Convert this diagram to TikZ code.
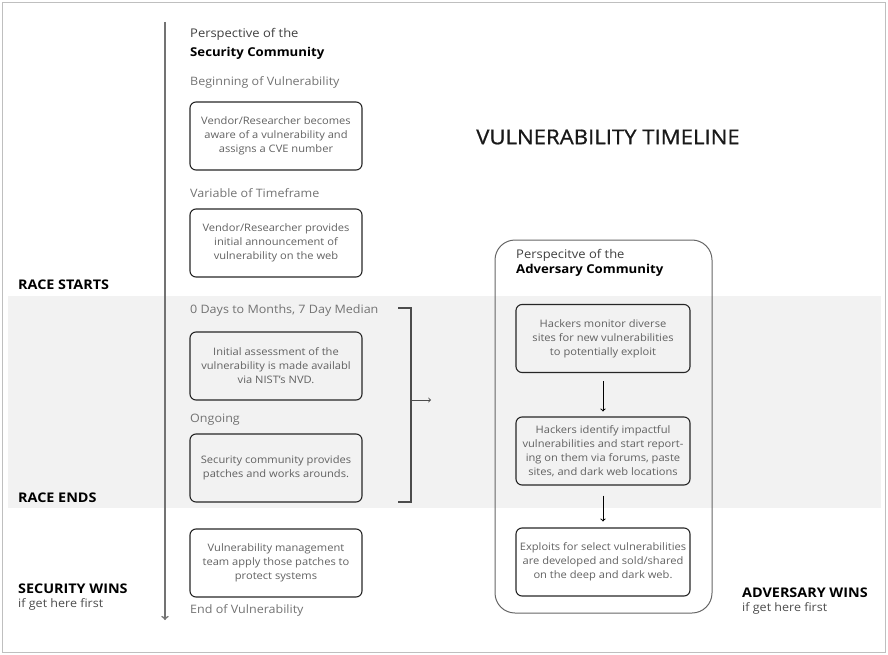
\documentclass[tikz,border=0pt]{standalone}
\usepackage{fontspec}
\setmainfont{Open Sans}[FakeStretch=1.08]
\newfontfamily\titlefont{Open Sans}[FakeStretch=1.08, FakeBold=0.8]
\usetikzlibrary{positioning}
\tikzset{
  stepbox/.style={draw=black!85, line width=1.1pt, rounded corners=6pt,
    minimum width=172pt, minimum height=68pt, align=center,
    font=\fontsize{10.3}{14}\selectfont, text=black!62, inner sep=1pt},
  label/.style={anchor=base west, inner sep=0pt},
  phase/.style={label, font=\fontsize{11.6}{13}\selectfont, text=black!55},
  persp/.style={label, font=\fontsize{12}{14}\selectfont, text=black!75},
  community/.style={label, font=\fontsize{12.2}{14}\selectfont\bfseries, text=black},
  race/.style={label, font=\fontsize{13.3}{15}\selectfont\bfseries, text=black},
  note/.style={label, font=\fontsize{11.6}{13}\selectfont, text=black!70},
}
\begin{document}
\begin{tikzpicture}[>=to, x=1pt, y=-1pt]
    \useasboundingbox (0,0) rectangle (888,655);
    % frame and the grey race band
    \draw[black!25, line width=1pt] (2,3) rectangle (885,652);
    \fill[black!5] (8,296) rectangle (881,508);

    % time axis
    \coordinate (axtop) at (165,22);
    \coordinate (axend) at (165,620);
    \draw[->, black!55, line width=1.6pt] (axtop) -- (axend);

    % left margin labels
    \node[race] (start) at (18,289) {RACE STARTS};
    \node[race] (ends) at (18,502) {RACE ENDS};
    \node[race] (secwins) at (18,593) {SECURITY WINS};
    \node[note] (secfirst) at (18,607) {if get here first};

    % security community column
    \node[persp] (sp) at (190,38) {Perspective of the};
    \node[community] (sc) at (190,57) {Security Community};
    \node[phase] (begin) at (190,86) {Beginning of Vulnerability};
    \node[stepbox] (aware) at (276,136) {Vendor/Researcher becomes\\aware of a vulnerability and\\assigns a CVE number};
    \node[phase] (variable) at (190,197) {Variable of Timeframe};
    \node[stepbox] (announce) at (276,243) {Vendor/Researcher provides\\initial announcement of\\vulnerability on the web};
    \node[phase] (median) at (190,313) {0 Days to Months, 7 Day Median};
    \node[stepbox] (assess) at (276,366) {Initial assessment of the\\vulnerability is made availabl\\via NIST's NVD.};
    \node[phase] (ongoing) at (190,422) {Ongoing};
    \node[stepbox] (patches) at (276,468) {Security community provides\\patches and works arounds.};
    \node[stepbox] (apply) at (276,563) {Vulnerability management\\team apply those patches to\\protect systems};
    \node[phase] (endvul) at (190,613) {End of Vulnerability};

    % bracket over the race and its arrow
    \coordinate (brtop) at (398,308);
    \coordinate (brbot) at (398,502);
    \coordinate (brmid) at (411,400);
    \coordinate (brtip) at (431,400);
    \draw[black!70, line width=1.1pt] (brtop) -| (brmid) |- (brbot);
    \draw[->, black!70, line width=0.9pt] (brmid) -- (brtip);

    % title
    \node[font=\titlefont\fontsize{20.5}{24}\selectfont, text=black!90] (title) at (608,137) {VULNERABILITY TIMELINE};

    % adversary community column
    \node[draw=black!60, line width=1pt, rounded corners=20pt, minimum width=217pt,
          minimum height=373pt] (advframe) at (603.5,426.5) {};
    \node[persp] (ap) at (516,258) {Perspecitve of the};
    \node[community] (ac) at (516,273) {Adversary Community};
    \node[stepbox, minimum width=174pt] (monitor) at (603,338.5) {Hackers monitor diverse\\sites for new vulnerabilities\\to potentially exploit};
    \node[stepbox, minimum width=174pt] (identify) at (603,451) {Hackers identify impactful\\vulnerabilities and start report-\\ing on them via forums, paste\\sites, and dark web locations};
    \node[stepbox, minimum width=174pt] (exploit) at (603,562) {Exploits for select vulnerabilities\\are developed and sold/shared\\on the deep and dark web.};
    \draw[->, black, line width=1pt] ([yshift=-8pt]monitor.south) -- ([yshift=5pt]identify.north);
    \draw[->, black, line width=1pt] ([yshift=-10pt]identify.south) -- ([yshift=6pt]exploit.north);

    % right margin labels
    \node[race] (advwins) at (742,597) {ADVERSARY WINS};
    \node[note] (advfirst) at (742,611) {if get here first};
\end{tikzpicture}
\end{document}
